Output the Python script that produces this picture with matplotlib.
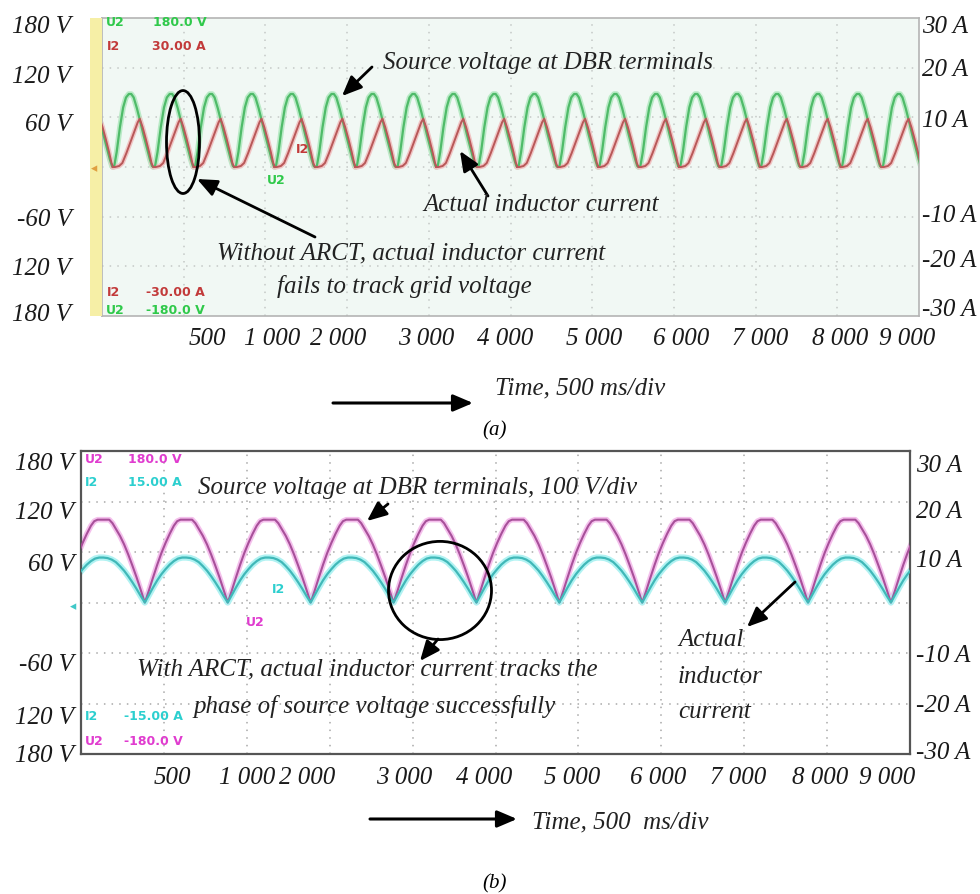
import numpy as np
import matplotlib
matplotlib.use("Agg")
import matplotlib.pyplot as plt
from matplotlib.patches import Ellipse, Rectangle, FancyArrowPatch

# ---------------- data (units = scope divisions) ----------------
# panel (a): one cycle of each trace (phase 0..1 -> value in divisions), and trough times
a_volt_phase = [0.00, 0.04, 0.10, 0.18, 0.26, 0.33, 0.40, 0.46, 0.52, 0.60, 0.68, 0.76, 0.84, 0.92, 0.97, 1.00]
a_volt_value = [0.00, 0.02, 0.30, 0.80, 1.20, 1.40, 1.47, 1.47, 1.40, 1.18, 0.92, 0.65, 0.40, 0.15, 0.02, 0.00]
a_curr_phase = [0.00, 0.06, 0.16, 0.24, 0.34, 0.44, 0.54, 0.62, 0.67, 0.74, 0.82, 0.90, 0.96, 1.00]
a_curr_value = [0.00, 0.00, 0.02, 0.08, 0.28, 0.50, 0.72, 0.90, 0.97, 0.80, 0.56, 0.30, 0.08, 0.00]
a_troughs = [-0.36, 0.13, 0.63, 1.12, 1.62, 2.11, 2.61, 3.10, 3.60, 4.09, 4.59, 5.08,
             5.58, 6.07, 6.57, 7.06, 7.56, 8.05, 8.55, 9.04, 9.54, 10.03]
a_period = 0.496

# panel (b)
b_volt_phase = [0.00, 0.05, 0.10, 0.15, 0.20, 0.25, 0.30, 0.35, 0.39, 0.43, 0.57, 0.61, 0.65, 0.70, 0.75, 0.80, 0.85, 0.90, 0.95, 1.00]
b_volt_value = [0.00, 0.24, 0.50, 0.75, 0.98, 1.18, 1.36, 1.52, 1.61, 1.64, 1.64, 1.57, 1.46, 1.32, 1.15, 0.95, 0.73, 0.50, 0.25, 0.00]
b_curr_phase = [0.00, 0.05, 0.10, 0.15, 0.20, 0.25, 0.30, 0.35, 0.40, 0.45, 0.50, 0.55, 0.60, 0.65, 0.70, 0.75, 0.80, 0.85, 0.90, 0.95, 1.00]
b_curr_value = [0.00, 0.15, 0.30, 0.44, 0.56, 0.66, 0.75, 0.82, 0.87, 0.89, 0.89, 0.88, 0.85, 0.80, 0.72, 0.63, 0.52, 0.40, 0.27, 0.13, 0.00]
b_troughs = [-0.23, 0.77, 1.77, 2.77, 3.77, 4.77, 5.77, 6.77, 7.77, 8.77, 9.77]
b_period = 1.0

x_tick_labels = ["500", "1 000", "2 000", "3 000", "4 000", "5 000", "6 000", "7 000", "8 000", "9 000"]
v_tick_labels = ["180 V", "120 V", "60 V", "-60 V", "120 V", "180 V"]
a_tick_labels = ["30 A", "20 A", "10 A", "-10 A", "-20 A", "-30 A"]

# ---------------- layout ----------------
W, H = 980, 895
fig = plt.figure(figsize=(W / 100, H / 100), dpi=100)
fig.patch.set_facecolor("white")

def ax_rect(x0, y0, x1, y1):
    return [x0 / W, 1 - y1 / H, (x1 - x0) / W, (y1 - y0) / H]

def P(x, y):
    return (x, H - y)

SERIF = dict(family="Liberation Serif", style="italic")

def trace(troughs, period, ph, val):
    xs, ys = [], []
    for t in troughs:
        xs.extend([t + period * p for p in ph])
        ys.extend(val)
    return xs, ys

def scope_axes(rect, bg, edge, elw, gridc):
    ax = fig.add_axes(rect)
    ax.set_facecolor(bg)
    ax.set_xlim(0, 10)
    ax.set_ylim(-3, 3)
    for v in range(1, 10):
        ax.axvline(v, color=gridc, lw=1.1, ls=(0, (1, 4)), zorder=1)
    for v in (-2, -1, 0, 1, 2):
        ax.axhline(v, color=gridc, lw=1.1, ls=(0, (1, 4)), zorder=1)
    for s in ax.spines.values():
        s.set_color(edge)
        s.set_linewidth(elw)
    ax.tick_params(length=0)
    return ax

tick_font = dict(fontsize=18, color="#1a1a1a", **SERIF)
ann_font = dict(fontsize=18, **SERIF)

# ================= panel (a) =================
axa = scope_axes(ax_rect(102, 19, 919, 317), "#f1f8f4", "#b4b4b4", 1.2, "#c4c8c6")
fig.patches.append(Rectangle((90 / W, 1 - 317 / H), 12 / W, 298 / H,
                             transform=fig.transFigure, facecolor="#f6efa6", edgecolor="none"))
xs, ys = trace(a_troughs, a_period, a_volt_phase, a_volt_value)
axa.plot(xs, ys, color="#b9eac6", lw=4, zorder=2)
axa.plot(xs, ys, color="#4fbb69", lw=1.6, zorder=3)
xs, ys = trace(a_troughs, a_period, a_curr_phase, a_curr_value)
axa.plot(xs, ys, color="#f0c4c4", lw=3.5, zorder=2)
axa.plot(xs, ys, color="#b85858", lw=1.4, zorder=3)

axa.set_xticks([1.285, 2.08, 2.89, 3.97, 4.94, 6.02, 7.09, 8.06, 9.04, 9.86])
axa.set_xticklabels(x_tick_labels, **tick_font)
axa.tick_params(axis="x", pad=8)
axa.set_yticks([2.88, 1.89, 0.91, -1.0, -1.99, -2.90])
axa.set_yticklabels(v_tick_labels, **tick_font)
axa.tick_params(axis="y", pad=22)
axa2 = axa.twinx()
axa2.set_ylim(-3, 3)
axa2.set_yticks([2.88, 2.03, 1.0, -0.91, -1.83, -2.80])
axa2.set_yticklabels(a_tick_labels, **tick_font)
axa2.tick_params(length=0, pad=2)
for s in axa2.spines.values():
    s.set_visible(False)

mono = dict(family=["Liberation Sans Narrow", "DejaVu Sans"], fontweight="bold", fontsize=9,
            va="center", ha="left")
ga, ra = "#2fc94a", "#c23a3a"
for (x, y, t, c) in [(106, 22, "U2", ga), (153, 22, "180.0 V", ga), (107, 46, "I2", ra), (152, 46, "30.00 A", ra),
                     (107, 292, "I2", ra), (146, 292, "-30.00 A", ra), (106, 311, "U2", ga), (146, 311, "-180.0 V", ga),
                     (296, 150, "I2", ra), (267, 181, "U2", ga)]:
    fig.text(x / W, 1 - y / H, t, color=c, **mono)
fig.text(94 / W, 1 - 169 / H, "◂", color="#e0a040", fontsize=9, ha="center", va="center")

axa.add_patch(Ellipse(((183 - 102) / 81.7, (168 - 143) / 49.7), 33 / 81.7, 103 / 49.7,
                      fill=False, edgecolor="black", lw=2, zorder=5))

for (x, y, t) in [(383, 63, "Source voltage at DBR terminals"),
                  (423, 205, "Actual inductor current"),
                  (217, 253, "Without ARCT, actual inductor current"),
                  (277, 286, "fails to track grid voltage"),
                  (495, 388, "Time, 500 ms/div")]:
    fig.text(x / W, 1 - y / H, t, ha="left", va="center", color="#222222", **ann_font)
fig.text(495 / W, 1 - 431 / H, "(a)", ha="center", va="center", fontsize=15, **SERIF)

def arrow(x0, y0, x1, y1, lw=2.0, hw=3.2, hl=7.5):
    fig.add_artist(FancyArrowPatch(
        P(x0, y0), P(x1, y1), transform=None,
        arrowstyle=f"-|>,head_width={hw:.2f},head_length={hl:.2f}",
        color="black", lw=lw, mutation_scale=1.6, shrinkA=0, shrinkB=0))

arrow(372, 68, 342, 97)
arrow(488, 197, 460, 152)
arrow(315, 238, 197, 180)
arrow(333, 404, 473, 404, lw=2.2)

# ================= panel (b) =================
axb = scope_axes(ax_rect(81, 452, 910, 755), "white", "#555555", 1.6, "#a8a8a8")
xs, ys = trace(b_troughs, b_period, b_volt_phase, b_volt_value)
axb.plot(xs, ys, color="#f4c0ec", lw=4, zorder=2)
axb.plot(xs, ys, color="#a8509a", lw=1.5, zorder=3)
xs, ys = trace(b_troughs, b_period, b_curr_phase, b_curr_value)
axb.plot(xs, ys, color="#b0f2f2", lw=4.5, zorder=2)
axb.plot(xs, ys, color="#40b8b8", lw=1.6, zorder=3)

axb.set_xticks([1.10, 2.00, 2.73, 3.90, 4.86, 5.92, 6.96, 7.93, 8.91, 9.72])
axb.set_xticklabels(x_tick_labels, **tick_font)
axb.tick_params(axis="x", pad=9)
axb.set_yticks([2.82, 1.85, 0.81, -1.17, -2.22, -2.98])
axb.set_yticklabels(v_tick_labels, **tick_font)
axb.tick_params(axis="y", pad=5)
axb2 = axb.twinx()
axb2.set_ylim(-3, 3)
axb2.set_yticks([2.78, 1.87, 0.89, -0.99, -1.98, -2.92])
axb2.set_yticklabels(a_tick_labels, **tick_font)
axb2.tick_params(length=0, pad=4)
for s in axb2.spines.values():
    s.set_visible(False)

mb, cb = "#e03ccf", "#2ccfcf"
for (x, y, t, c) in [(85, 460, "U2", mb), (128, 460, "180.0 V", mb), (85, 483, "I2", cb), (128, 483, "15.00 A", cb),
                     (85, 717, "I2", cb), (124, 717, "-15.00 A", cb), (85, 742, "U2", mb), (124, 742, "-180.0 V", mb),
                     (272, 590, "I2", cb), (246, 623, "U2", mb)]:
    fig.text(x / W, 1 - y / H, t, color=c, **mono)
fig.text(73 / W, 1 - 607 / H, "◂", color="#40c8c8", fontsize=9, ha="center", va="center")

axb.add_patch(Ellipse(((440 - 81) / 82.9, (603 - 591) / 50.4), 103 / 82.9, 98 / 50.4,
                      fill=False, edgecolor="black", lw=2, zorder=5))

for (x, y, t) in [(198, 488, "Source voltage at DBR terminals, 100 V/div"),
                  (137, 669, "With ARCT, actual inductor current tracks the"),
                  (193, 707, "phase of source voltage successfully"),
                  (678, 640, "Actual"), (678, 677, "inductor"), (678, 712, "current"),
                  (532, 822, "Time, 500  ms/div")]:
    fig.text(x / W, 1 - y / H, t, ha="left", va="center", color="#222222", **ann_font)
fig.text(495 / W, 1 - 884 / H, "(b)", ha="center", va="center", fontsize=15, **SERIF)

arrow(388, 505, 367, 522)
arrow(438, 640, 420, 662)
arrow(795, 583, 747, 628)
arrow(370, 820, 517, 820, lw=2.2)

fig.savefig("out.png", dpi=100)
